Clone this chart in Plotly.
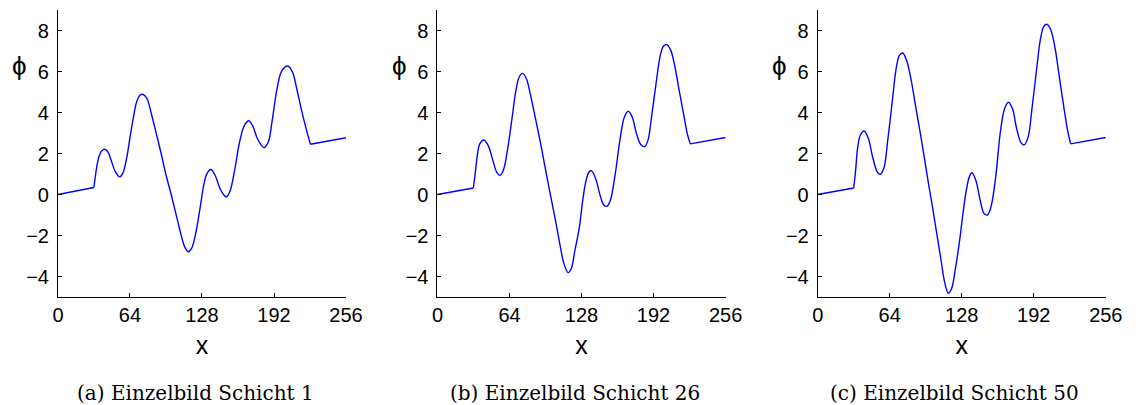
import plotly.graph_objects as go

# ---- data (x positions, phi values) ----
x_1 = [0, 31.9, 32.8, 34.5, 36.6, 38.9, 41.5, 44.4, 47.3, 51.1,
       54.9, 57.5, 60.7, 64.1, 67.1, 69.9, 72.9, 75.8, 79.2, 83,
       87.4, 91.7, 96.1, 100.4, 104.8, 109.1, 112.6, 115.8, 118.7, 122.2,
       126.6, 129.5, 132.4, 135.9, 139.6, 144, 147.5, 149.8, 152.7, 157,
       161.4, 165.7, 169.5, 172.9, 177.3, 183.1, 186.9, 190.4, 194.7, 199.1,
       204.3, 208.4, 212.2, 216.5, 220.9, 224.4, 256]
phi_1 = [0, 0.34, 0.70, 1.35, 1.87, 2.13, 2.21, 2.08, 1.67, 1.10,
         0.86, 1.02, 1.67, 2.81, 3.78, 4.51, 4.84, 4.88, 4.67, 3.94,
         2.97, 2.0, 0.94, 0.05, -0.93, -1.90, -2.55, -2.79, -2.63, -1.95,
         -0.55, 0.45, 1.02, 1.22, 0.94, 0.29, -0.03, -0.12, 0.13, 1.18,
         2.56, 3.37, 3.60, 3.37, 2.72, 2.28, 2.56, 3.62, 5.16, 6.05,
         6.27, 5.97, 5.16, 4.10, 3.13, 2.45, 2.77]

x_26 = [0, 31.9, 33.7, 35.4, 37.7, 41.2, 45, 48.8, 52.8, 55.7,
        58.6, 62.4, 66.2, 69.7, 72.6, 75.5, 79, 82.7, 87.1, 91.4,
        95.8, 98.7, 101.6, 105.1, 108.9, 112.3, 116.1, 119, 121.9, 126.2,
        128.9, 131.8, 134.7, 137, 140.5, 144.9, 147.9, 150.7, 153.6, 158,
        162.3, 166.1, 169.5, 173, 176.8, 180.6, 184.1, 187, 190.4, 194.2,
        198, 200.9, 203.8, 207.3, 211, 214.5, 218.9, 222.3, 224.7, 256]
phi_26 = [0, 0.32, 1.10, 1.92, 2.48, 2.66, 2.40, 1.75, 1.07, 0.93,
          1.19, 2.24, 3.70, 5.08, 5.73, 5.91, 5.65, 4.84, 3.70, 2.56,
          1.27, 0.45, -0.36, -1.33, -2.47, -3.36, -3.81, -3.60, -2.79, -1.55,
          -0.36, 0.62, 1.10, 1.15, 0.78, -0.11, -0.52, -0.57, -0.28, 1.02,
          2.73, 3.78, 4.06, 3.78, 2.97, 2.44, 2.34, 2.65, 3.86, 5.41,
          6.79, 7.24, 7.31, 7.03, 6.22, 5.16, 3.86, 2.89, 2.47, 2.78]

x_50 = [0, 32, 33.7, 35.4, 37.8, 41.2, 45, 48.8, 52.9, 55.5,
        58.7, 62.4, 66.2, 69.7, 72.6, 75.5, 79, 82.8, 87.1, 91.5,
        95.8, 98.7, 102.2, 106, 109.8, 112.7, 116.1, 119, 121.9, 126.2,
        128.9, 131.8, 134.7, 137, 140.5, 144, 147.8, 150.7, 153.6, 158,
        162.3, 166.1, 169.5, 173, 176.8, 180.6, 183.5, 187, 190.4, 194.2,
        198, 200.9, 203.8, 207.3, 211, 214.5, 218.9, 222.3, 224.7, 256]
phi_50 = [0, 0.32, 1.19, 2.24, 2.89, 3.10, 2.73, 1.83, 1.10, 0.99,
          1.27, 2.73, 4.51, 6.14, 6.79, 6.90, 6.54, 5.65, 4.27, 2.89,
          1.43, 0.45, -0.68, -1.98, -3.28, -4.25, -4.82, -4.58, -3.77, -2.2,
          -1.0, 0.13, 0.86, 1.06, 0.70, -0.19, -0.93, -1.0, -0.68, 0.78,
          3.05, 4.19, 4.50, 4.19, 3.21, 2.53, 2.42, 2.81, 4.19, 5.97,
          7.60, 8.20, 8.30, 8.0, 7.11, 5.81, 4.19, 3.05, 2.47, 2.78]

panels = [(x_1, phi_1), (x_26, phi_26), (x_50, phi_50)]
captions = ["(a) Einzelbild Schicht 1", "(b) Einzelbild Schicht 26",
            "(c) Einzelbild Schicht 50"]
x_ticks = [0, 64, 128, 192, 256]
y_ticks = [-4, -2, 0, 2, 4, 6, 8]

# ---- layout geometry (pixels) ----
W, H = 1148, 405
left_px = [53, 440.3, 828.3]
plot_w = 294
top_px, bottom_px = 10, 297

sans = "Liberation Sans, Arial, sans-serif"
serif = "DejaVu Serif, serif"
line_style = dict(color="#0000FF", width=1.4)

fig = go.Figure()
annotations = []
for i, ((xs, ys), cap) in enumerate(zip(panels, captions)):
    n = "" if i == 0 else str(i + 1)
    # straight ramp at the left, smooth wave packet, straight ramp at the right
    pieces = [(xs[:2], ys[:2], "linear"),
              (xs[1:-1], ys[1:-1], "spline"),
              (xs[-2:], ys[-2:], "linear")]
    for px, py, shape in pieces:
        ls = dict(line_style, shape=shape)
        if shape == "spline":
            ls["smoothing"] = 1.0
        fig.add_trace(go.Scatter(x=px, y=py, mode="lines", xaxis="x" + n,
                                 yaxis="y" + n, line=ls, showlegend=False,
                                 hoverinfo="skip"))
    d0 = left_px[i] / W
    d1 = (left_px[i] + plot_w) / W
    fig.update_layout(**{
        "xaxis" + n: dict(domain=[d0, d1], range=[0, 256], tickvals=x_ticks,
                          ticks="inside", ticklen=4, tickcolor="black",
                          showline=True, linecolor="black", linewidth=1,
                          showgrid=False, zeroline=False, anchor="y" + n,
                          tickfont=dict(family=sans, size=20, color="black"),
                          title=dict(text="x", standoff=11,
                                     font=dict(family=sans, size=25, color="black"))),
        "yaxis" + n: dict(domain=[1 - bottom_px / H, 1 - top_px / H], range=[-5, 9],
                          tickvals=y_ticks, ticks="inside", ticklen=4,
                          tickcolor="black", showline=True, linecolor="black",
                          linewidth=1, showgrid=False, zeroline=False,
                          anchor="x" + n, ticklabelstandoff=4,
                          tickfont=dict(family=sans, size=20, color="black")),
    })
    annotations.append(dict(text="ϕ", x=(left_px[i] - 39) / W, y=1 - 66 / H,
                            xref="paper", yref="paper", showarrow=False,
                            xanchor="center", yanchor="middle",
                            font=dict(family=sans, size=26, color="black")))
    annotations.append(dict(text=cap, x=(left_px[i] + plot_w / 2 - 7) / W,
                            y=1 - 393 / H, xref="paper", yref="paper",
                            showarrow=False, xanchor="center", yanchor="middle",
                            font=dict(family=serif, size=20, color="black")))

fig.update_layout(width=W, height=H, margin=dict(l=0, r=0, t=0, b=0),
                  plot_bgcolor="white", paper_bgcolor="white",
                  annotations=annotations)
fig.write_html("out.html")
